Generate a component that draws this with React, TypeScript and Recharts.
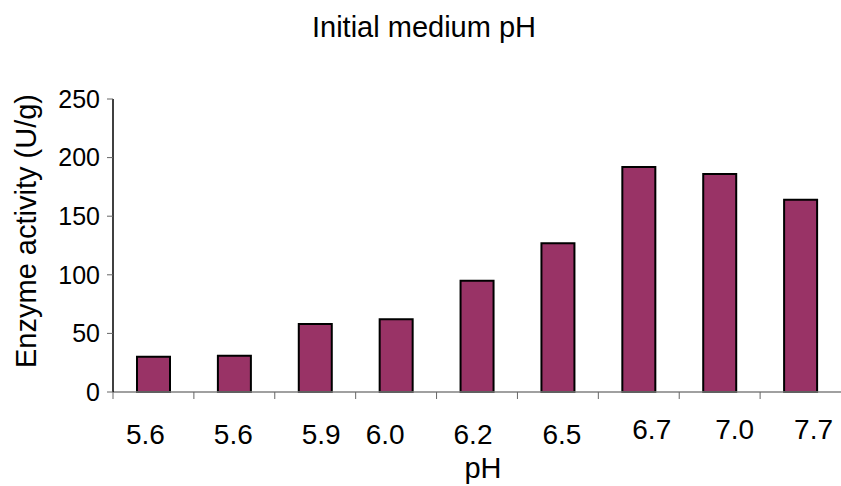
import React from 'react';
import { BarChart, Bar, XAxis, YAxis } from 'recharts';

// pH values on the x axis (as printed) and measured activity
const phLabels = ['5.6', '5.6', '5.9', '6.0', '6.2', '6.5', '6.7', '7.0', '7.7'];
const activity = [30, 31, 58, 62, 95, 127, 192, 186, 164];
const yTicks = [0, 50, 100, 150, 200, 250];

// the original labels sit a bit off-centre, like the source image
const labelNudgeX = [-8, -1, 6, -11, -4, 4, 13, 15, 13];
const labelNudgeY = [0, 0, 0, 0, 0, 0, -5, -5, -5];

const chartData = phLabels.map((ph, i) => ({ id: i, ph, activity: activity[i] }));

const FONT = 'Liberation Sans, Arial, sans-serif';

const PhTick = (props: any) => {
  const { x, y, payload, index } = props;
  const half = payload && payload.offset ? payload.offset : 40;
  return (
    <g>
      <line x1={x - half} x2={x - half} y1={y} y2={y + 7} stroke="#666" strokeWidth={1} />
      <text
        x={x + labelNudgeX[index]}
        y={y + 52 + labelNudgeY[index]}
        textAnchor="middle"
        fontSize={28}
        fontFamily={FONT}
        fill="#000"
      >
        {phLabels[index]}
      </text>
    </g>
  );
};

const App: React.FC = () => {
  return (
    <div style={{ position: 'absolute', left: 0, top: 0, width: 841, height: 486, background: '#fff' }}>
      <BarChart
        width={841}
        height={486}
        data={chartData}
        margin={{ top: 99, right: 0, left: 0, bottom: 0 }}
      >
        <text x={424} y={37} textAnchor="middle" fontSize={29} fontFamily={FONT} fill="#000">
          Initial medium pH
        </text>
        <text
          x={36}
          y={231}
          textAnchor="middle"
          fontSize={29}
          fontFamily={FONT}
          fill="#000"
          transform="rotate(-90, 36, 231)"
        >
          Enzyme activity (U/g)
        </text>
        <text x={483} y={478} textAnchor="middle" fontSize={29} fontFamily={FONT} fill="#000">
          pH
        </text>
        <XAxis
          dataKey="id"
          height={94}
          interval={0}
          tickSize={0}
          tickMargin={0}
          tickLine={false}
          axisLine={{ stroke: '#808080', strokeWidth: 1.5 }}
          tick={<PhTick />}
        />
        <YAxis
          width={113}
          domain={[0, 250]}
          ticks={yTicks}
          interval={0}
          tickSize={6}
          tickMargin={7}
          axisLine={{ stroke: '#000', strokeWidth: 1.5 }}
          tickLine={{ stroke: '#666' }}
          tick={{ fontSize: 25, fontFamily: FONT, fill: '#000' }}
        />
        <Bar
          dataKey="activity"
          fill="#993366"
          stroke="#000"
          strokeWidth={2}
          barSize={33}
          isAnimationActive={false}
        />
      </BarChart>
    </div>
  );
};

export default App;
